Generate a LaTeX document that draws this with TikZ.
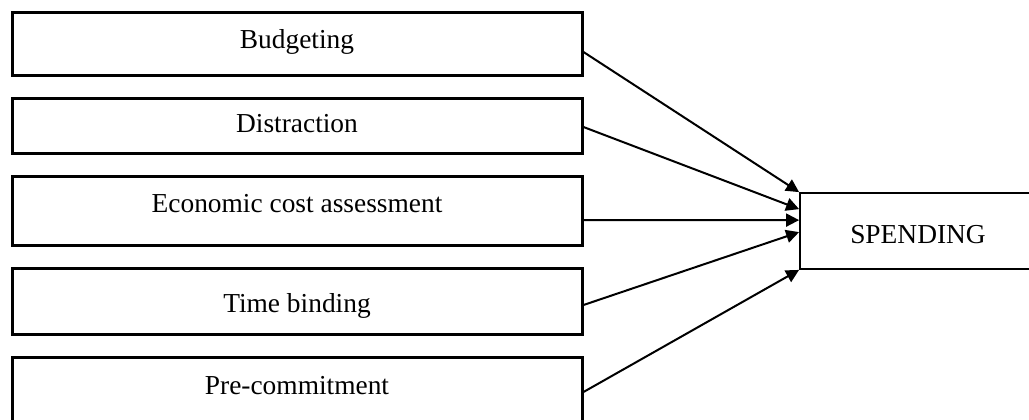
\documentclass[tikz,border=0pt]{standalone}
\usepackage{fontspec}
\setmainfont{Liberation Serif}
\usetikzlibrary{arrows.meta,calc}
\tikzset{
  factor/.style={draw,line width=1.5pt,minimum width=285pt,inner sep=0pt,font=\fontsize{13.7}{16}\selectfont},
  target/.style={draw,line width=0.9pt,minimum width=118pt,minimum height=38pt,inner sep=0pt,font=\fontsize{13.7}{16}\selectfont},
  link/.style={line width=1pt,-{Triangle[length=6.5pt,width=6.5pt]}}
}
\begin{document}
\begin{tikzpicture}[x=0.5pt,y=-0.5pt]
\useasboundingbox (0,0) rectangle (1029,419);
\clip (0,0) rectangle (1029,419);
\node[factor,minimum height=31.5pt,text height=9pt,text depth=4.5pt](bud) at (297,43.5){Budgeting};
\node[factor,minimum height=27.5pt,text height=9pt,text depth=2.5pt](dis) at (297,125.5){Distraction};
\node[factor,minimum height=34.5pt,text height=9pt,text depth=7.5pt](eco) at (297,210.5){Economic cost assessment};
\node[factor,minimum height=33pt,text height=11pt,text depth=0pt](tim) at (297,301){Time binding};
\node[factor,minimum height=33pt,text height=9pt,text depth=5pt](pre) at (297,390){Pre-commitment};
\node[target,text height=12pt,text depth=0pt](spe) at (918,231){SPENDING};
\draw[link]($(bud.east)+(0,8.5)$)--(spe.north west);
\draw[link]($(dis.east)+(0,1.5)$)--($(spe.north west)+(0,17)$);
\draw[link]($(eco.east)+(0,9.5)$)--($(spe.north west)+(0,28)$);
\draw[link]($(tim.east)+(0,4)$)--($(spe.north west)+(0,40)$);
\draw[link]($(pre.east)+(0,2)$)--(spe.south west);
\end{tikzpicture}
\end{document}
